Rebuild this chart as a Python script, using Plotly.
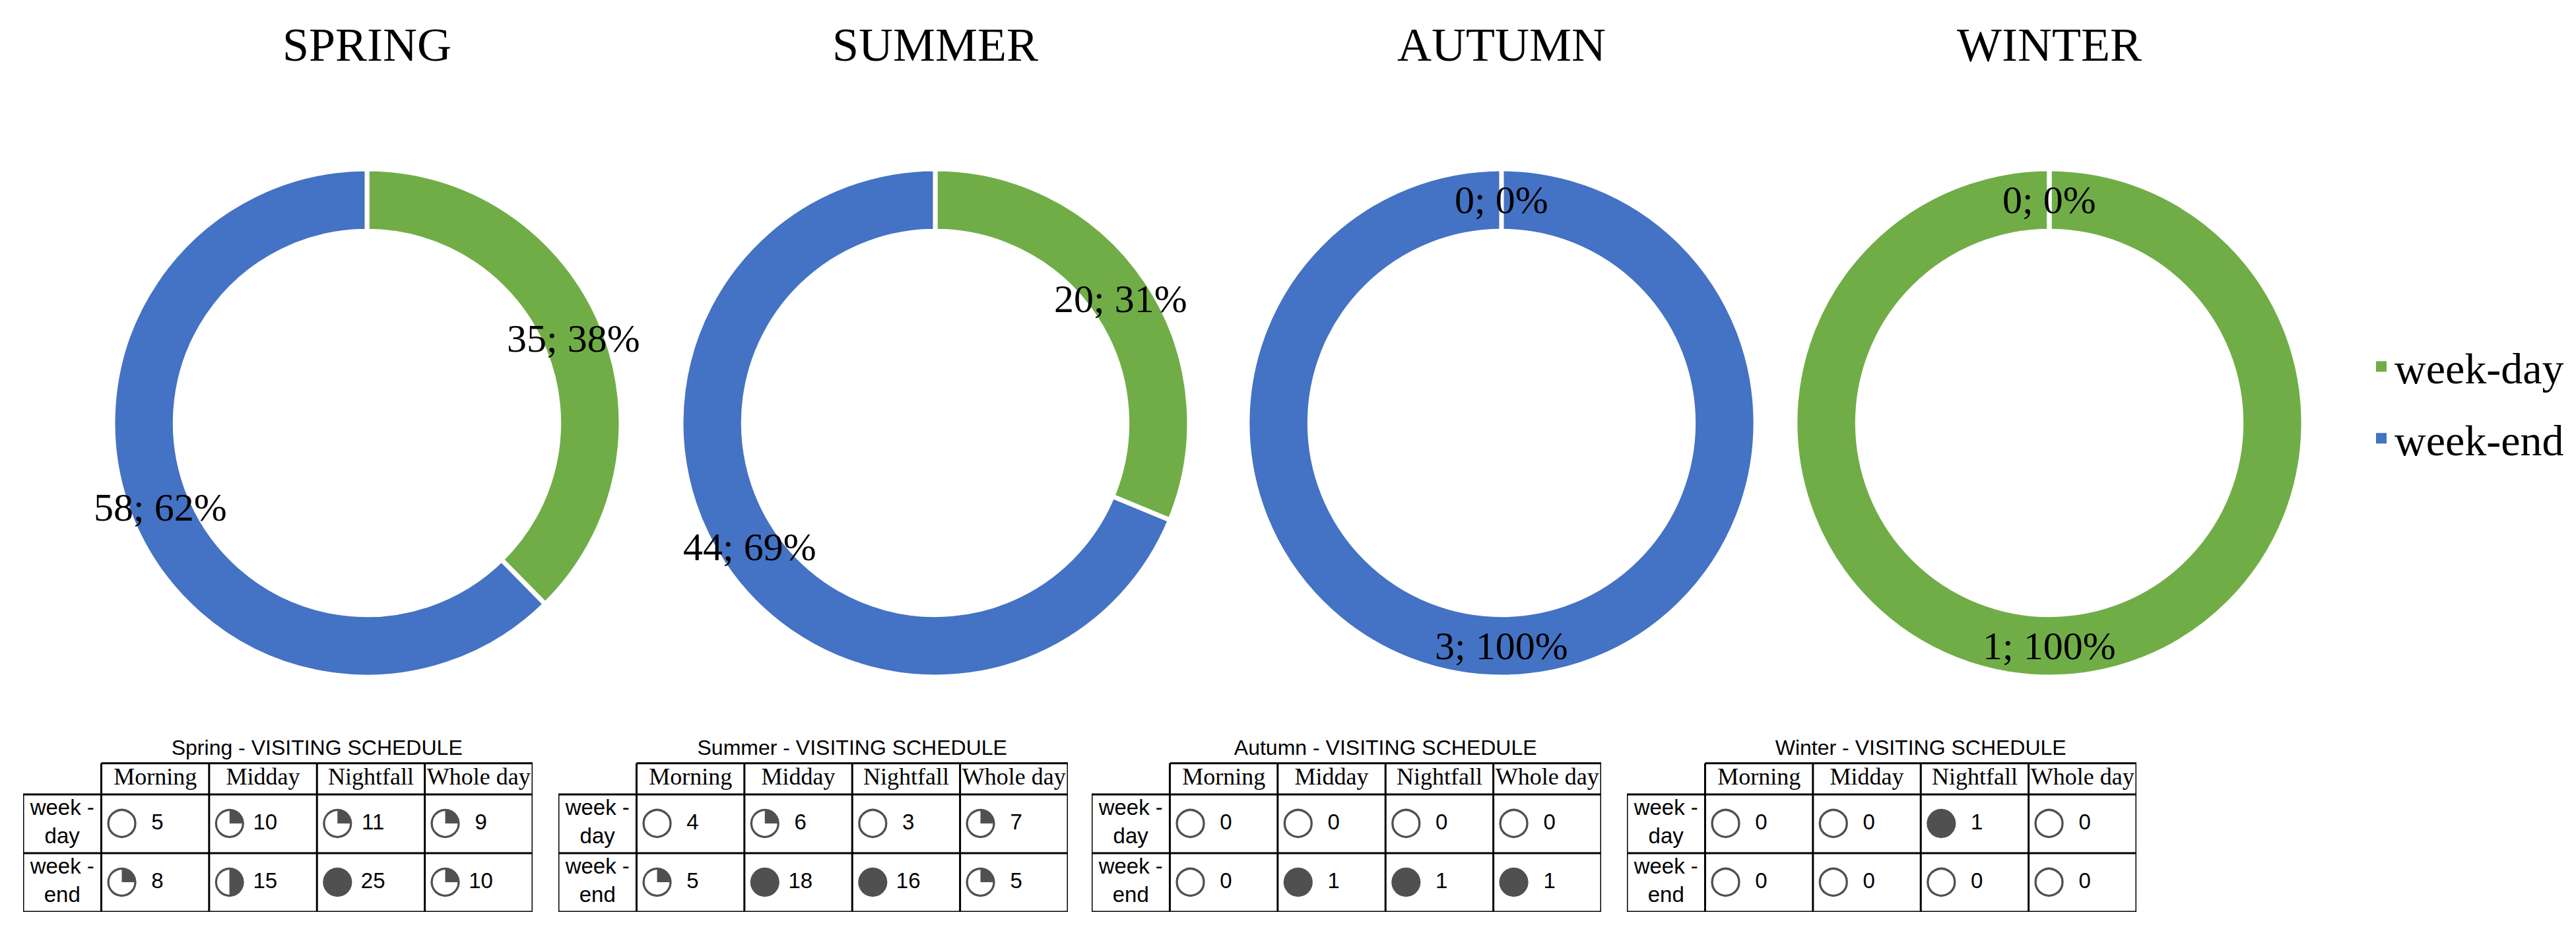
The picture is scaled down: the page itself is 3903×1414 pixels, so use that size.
import math
import plotly.graph_objects as go

# ---- data -------------------------------------------------------------
seasons = ["SPRING", "SUMMER", "AUTUMN", "WINTER"]
table_names = ["Spring", "Summer", "Autumn", "Winter"]
day_types = ["week-day", "week-end"]
week_day = [35, 20, 0, 1]
week_end = [58, 44, 3, 0]

periods = ["Morning", "Midday", "Nightfall", "Whole day"]
row_labels = ["week -<br>day", "week -<br>end"]
sched_day = [[5, 10, 11, 9], [4, 6, 3, 7], [0, 0, 0, 0], [0, 0, 1, 0]]
sched_end = [[8, 15, 25, 10], [5, 18, 16, 5], [0, 1, 1, 1], [0, 0, 0, 0]]
# harvey ball fill, in quarters
ball_day = [[0, 1, 1, 1], [0, 1, 0, 1], [0, 0, 0, 0], [0, 0, 4, 0]]
ball_end = [[1, 2, 4, 1], [1, 4, 4, 1], [0, 4, 4, 4], [0, 0, 0, 0]]

colors = ["#70AD47", "#4472C4"]
balls = ["\u25CB", "\u25D4", "\u25D1", "\u25D5", "\u25CF"]

# ---- layout geometry (px) --------------------------------------------
W, H = 3903, 1414
pie_cx = [548, 1409, 2267, 3097]
pie_cy = 633
R = 385
HOLE = 0.755
r_mid = 338

tbl_left = [27, 838, 1646, 2457]
tbl_w = 772
tbl_bottom = 1374
row_h = 89
label_w = 0.725
header_top = 2.53

SERIF = "Liberation Serif, Times New Roman, serif"
SANS = "Liberation Sans, Arial, sans-serif"

fig = go.Figure()
annotations = []
shapes = []

for i, season in enumerate(seasons):
    vals = [week_day[i], week_end[i]]
    cx = pie_cx[i]
    fig.add_trace(go.Pie(
        values=vals,
        labels=day_types,
        hole=HOLE,
        sort=False,
        direction="clockwise",
        rotation=0,
        marker=dict(colors=colors, line=dict(color="white", width=7)),
        textinfo="none",
        hoverinfo="label+value+percent",
        showlegend=False,
        domain=dict(x=[(cx - R) / W, (cx + R) / W],
                    y=[1 - (pie_cy + R) / H, 1 - (pie_cy - R) / H]),
    ))

    # an empty slice still leaves its white separator at 12 o'clock
    if 0 in vals:
        shapes.append(dict(
            type="line", xref="paper", yref="paper",
            x0=cx / W, x1=cx / W,
            y0=1 - (pie_cy - R * HOLE + 4) / H, y1=1 - (pie_cy - R - 4) / H,
            line=dict(color="white", width=7)))

    # season title
    annotations.append(dict(
        x=cx / W, y=1 - 60 / H, xref="paper", yref="paper",
        text=season, showarrow=False, xanchor="center", yanchor="middle",
        font=dict(family=SERIF, size=72, color="black"),
    ))

    # data labels in the middle of the ring
    total = sum(vals)
    start = 0.0
    for v in vals:
        frac = v / total
        mid = (start + frac / 2) * 2 * math.pi
        start += frac
        px = cx + r_mid * math.sin(mid)
        py = pie_cy - r_mid * math.cos(mid)
        annotations.append(dict(
            x=px / W, y=1 - py / H, xref="paper", yref="paper",
            text=f"{v}; {round(frac * 100)}%", showarrow=False,
            xanchor="center", yanchor="middle",
            font=dict(family=SERIF, size=60, color="black"),
        ))

# ---- schedule tables ---------------------------------------------------
layout_axes = {}
for i, name in enumerate(table_names):
    sfx = "" if i == 0 else str(i + 1)
    xa, ya = "x" + sfx, "y" + sfx
    layout_axes["xaxis" + sfx] = dict(
        domain=[tbl_left[i] / W, (tbl_left[i] + tbl_w) / W],
        range=[-label_w, 4], visible=False, fixedrange=True, anchor=ya)
    layout_axes["yaxis" + sfx] = dict(
        domain=[(H - tbl_bottom) / H, (H - tbl_bottom + 3 * row_h) / H],
        range=[0, 3], visible=False, fixedrange=True, anchor=xa)

    line = dict(color="black", width=3)
    # horizontal borders
    shapes.append(dict(type="line", xref=xa, yref=ya, x0=0, x1=4,
                       y0=header_top, y1=header_top, line=line))
    for yy in [0, 1, 2]:
        shapes.append(dict(type="line", xref=xa, yref=ya, x0=-label_w, x1=4,
                           y0=yy, y1=yy, line=line))
    # vertical borders
    shapes.append(dict(type="line", xref=xa, yref=ya, x0=-label_w, x1=-label_w,
                       y0=0, y1=2, line=line))
    for xx in range(5):
        shapes.append(dict(type="line", xref=xa, yref=ya, x0=xx, x1=xx,
                           y0=0, y1=header_top, line=line))

    cols = list(range(len(periods)))
    # title
    fig.add_trace(go.Scatter(
        x=[2], y=[2.76], text=[f"{name} - VISITING SCHEDULE"], mode="text",
        textfont=dict(family=SANS, size=32, color="black"),
        xaxis=xa, yaxis=ya, showlegend=False, hoverinfo="skip", cliponaxis=False))
    # header
    fig.add_trace(go.Scatter(
        x=[c + 0.5 for c in cols], y=[2.265] * 4, text=periods, mode="text",
        textfont=dict(family=SERIF, size=36, color="black"),
        xaxis=xa, yaxis=ya, showlegend=False, hoverinfo="skip", cliponaxis=False))
    # row labels
    fig.add_trace(go.Scatter(
        x=[-label_w / 2] * 2, y=[1.5, 0.5], text=row_labels, mode="text",
        textfont=dict(family=SANS, size=33, color="black"),
        xaxis=xa, yaxis=ya, showlegend=False, hoverinfo="skip", cliponaxis=False))
    for yy, counts, lvls in [(1.5, sched_day[i], ball_day[i]),
                             (0.5, sched_end[i], ball_end[i])]:
        fig.add_trace(go.Scatter(
            x=[c + 0.19 for c in cols], y=[yy] * 4,
            text=[balls[l] for l in lvls], mode="text",
            textfont=dict(family="DejaVu Sans", size=58, color="#505050"),
            xaxis=xa, yaxis=ya, showlegend=False, hoverinfo="skip", cliponaxis=False))
        fig.add_trace(go.Scatter(
            x=[c + 0.52 for c in cols], y=[yy] * 4,
            text=[str(n) for n in counts], mode="text",
            textfont=dict(family=SANS, size=33, color="black"),
            xaxis=xa, yaxis=ya, showlegend=False, hoverinfo="skip", cliponaxis=False))

# legend entries
for name, col in zip(day_types, colors):
    fig.add_trace(go.Scatter(
        x=[None], y=[None], mode="markers", name=name, legendgroup=name,
        marker=dict(symbol="square", size=24, color=col),
        xaxis="x", yaxis="y"))

fig.update_layout(
    width=W, height=H, autosize=False,
    margin=dict(l=0, r=0, t=0, b=0),
    paper_bgcolor="white", plot_bgcolor="white",
    annotations=annotations, shapes=shapes,
    legend=dict(x=3580 / W, y=1 - 498 / H, xanchor="left", yanchor="top",
                font=dict(family=SERIF, size=66, color="black"),
                tracegroupgap=20, bgcolor="rgba(0,0,0,0)"),
    **layout_axes,
)

fig.write_html("out.html")
